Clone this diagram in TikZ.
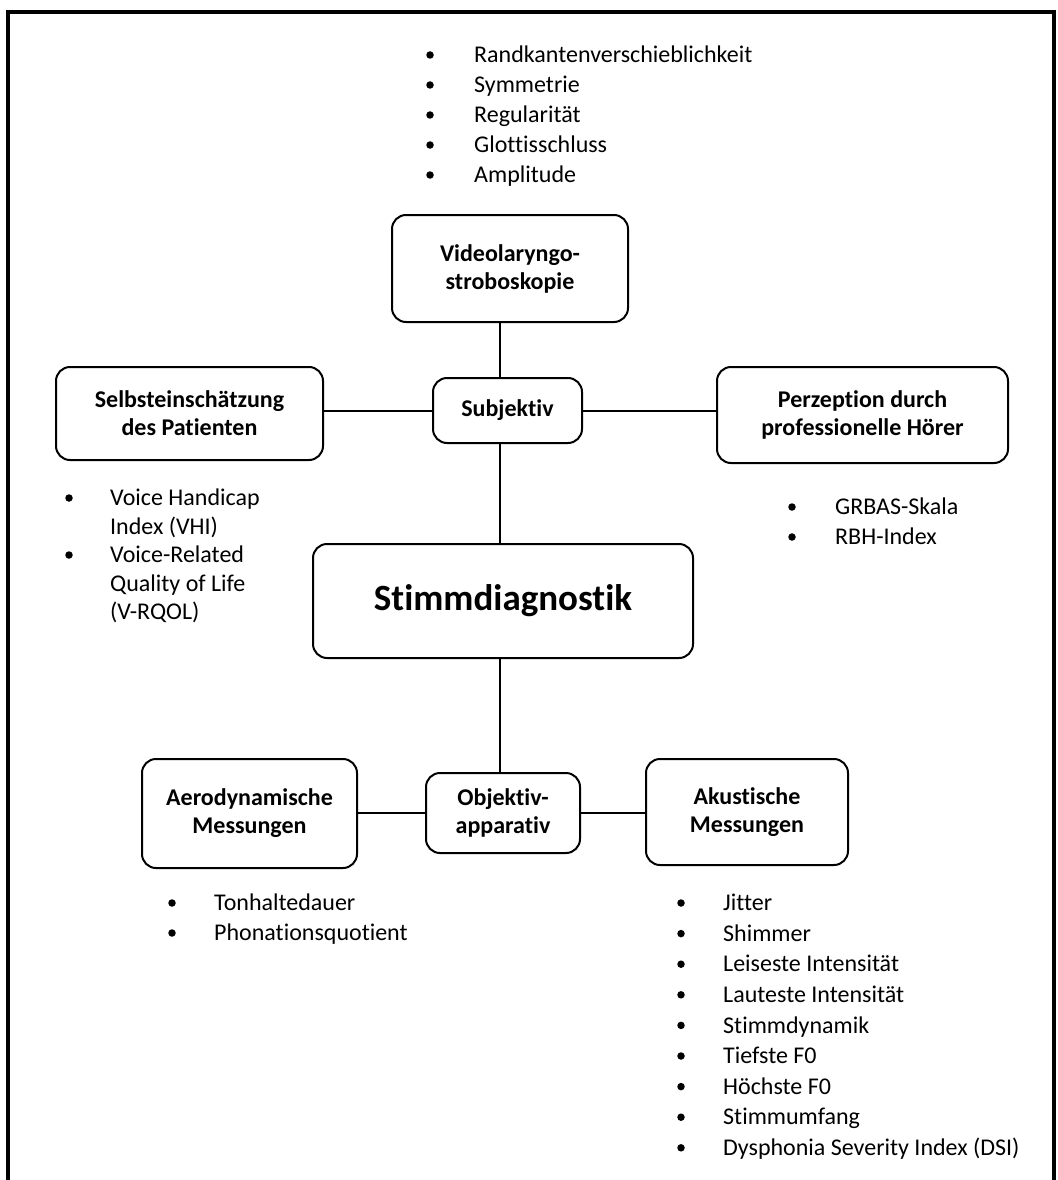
\documentclass[tikz,border=0pt]{standalone}
\usepackage{fontspec}
\setmainfont{Carlito}[Ligatures=NoCommon]
\tikzset{
  box/.style={draw, line width=2pt, rounded corners=14pt, align=center,
    font=\bfseries\fontsize{24}{28}\selectfont, inner sep=0pt},
  conn/.style={line width=2pt},
  itemtext/.style={anchor=base west, inner sep=0pt, font=\fontsize{24}{30}\selectfont},
  bulletdot/.style={fill, circle, inner sep=0pt, minimum size=7.5pt},
  frameline/.style={line width=4pt}
}
\begin{document}
\begin{tikzpicture}[x=1pt,y=-1pt]
\useasboundingbox (0,0) rectangle (1057,1180);
% frame
\coordinate (fbl) at (8,1184);
\coordinate (ftl) at (8,12);
\coordinate (ftr) at (1054,12);
\coordinate (fbr) at (1054,1184);
\draw[frameline] (fbl) -- (ftl) -- (ftr) -- (fbr);

% boxes
\node[box, minimum width=236pt, minimum height=107pt] (video) at (510,268.5) {Videolaryngo-\\stroboskopie};
\node[box, minimum width=149pt, minimum height=65pt] (subj) at (507.5,410.5) {Subjektiv};
\node[box, minimum width=267pt, minimum height=93pt] (selbst) at (189.5,413.5) {Selbsteinschätzung\\des Patienten};
\node[box, minimum width=291pt, minimum height=96pt] (perz) at (862.5,415) {Perzeption durch\\professionelle Hörer};
\node[box, minimum width=380pt, minimum height=114pt, font=\bfseries\fontsize{37}{44}\selectfont] (stimm) at (503,601) {\raisebox{3pt}{Stimmdiagnostik}};
\node[box, minimum width=154pt, minimum height=80pt] (obj) at (503,813) {Objektiv-\\apparativ};
\node[box, minimum width=215pt, minimum height=109pt] (aero) at (249.5,813.5) {Aerodynamische\\Messungen};
\node[box, minimum width=202pt, minimum height=106pt] (akust) at (747,812) {Akustische\\Messungen};

% connectors
\coordinate (axis) at (500,0);
\draw[conn] (video.south -| axis) -- (subj.north -| axis);
\draw[conn] (subj.south -| axis) -- (stimm.north -| axis);
\draw[conn] (stimm.south -| axis) -- (obj.north -| axis);
\draw[conn] (subj.west) -- (subj.west -| selbst.east);
\draw[conn] (subj.east) -- (subj.east -| perz.west);
\draw[conn] (obj.west) -- (obj.west -| aero.east);
\draw[conn] (obj.east) -- (obj.east -| akust.west);

% top list
\foreach \t [count=\i from 0] in {Randkantenverschieblichkeit, Symmetrie, Regularität, Glottisschluss, Amplitude} {
  \node[bulletdot] (vb\i) at (430,{55+30*\i}) {};
  \node[itemtext] (vt\i) at (474,{62.7+30*\i}) {\t};
}
% Selbst list
\node[bulletdot] (sb0) at (69,498) {};
\node[bulletdot] (sb1) at (69,555) {};
\foreach \t [count=\i from 0] in {Voice Handicap, Index (VHI), Voice-Related, Quality of Life, (V-RQOL)} {
  \node[itemtext] (st\i) at (110,{505.7+28.5*\i}) {\t};
}
% Perzeption list
\foreach \t [count=\i from 0] in {GRBAS-Skala, RBH-Index} {
  \node[bulletdot] (pb\i) at (792,{507+30*\i}) {};
  \node[itemtext] (pt\i) at (835,{514.7+30*\i}) {\t};
}
% Aero list
\foreach \t [count=\i from 0] in {Tonhaltedauer, Phonationsquotient} {
  \node[bulletdot] (ab\i) at (172,{903+30*\i}) {};
  \node[itemtext] (at\i) at (214,{910.7+30*\i}) {\t};
}
% Akustische list
\foreach \t [count=\i from 0] in {Jitter, Shimmer, Leiseste Intensität, Lauteste Intensität, Stimmdynamik, Tiefste F0, Höchste F0, Stimmumfang, Dysphonia Severity Index (DSI)} {
  \node[bulletdot] (kb\i) at (681,{903+30.6*\i}) {};
  \node[itemtext] (kt\i) at (723,{910.7+30.6*\i}) {\t};
}
\end{tikzpicture}
\end{document}
